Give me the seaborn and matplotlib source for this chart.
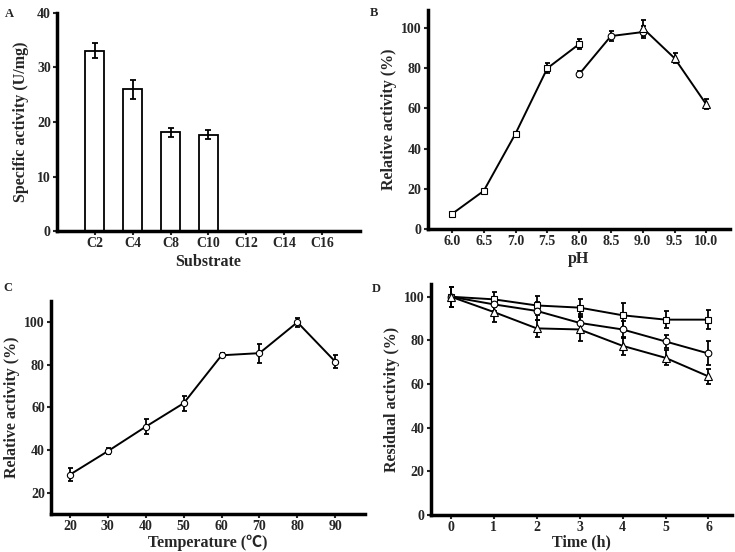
import matplotlib
matplotlib.use("Agg")
import matplotlib.pyplot as plt
import seaborn as sns
import pandas as pd

sns.set_style("white")
plt.rcParams['font.family'] = ['Liberation Serif', 'Noto Sans CJK SC']
plt.rcParams['font.weight'] = 'bold'

# A: substrate specificity
substrates = ['C2', 'C4', 'C8', 'C10', 'C12', 'C14', 'C16']
spec_act = [33.1, 26.0, 18.1, 17.7, 0, 0, 0]
spec_err = [1.3, 1.7, 0.8, 0.9, 0, 0, 0]

# B: pH profile (three buffers)
ph_sq = [6.0, 6.5, 7.0, 7.5, 8.0]
act_sq = [7.5, 19, 47.5, 80, 92]
err_sq = [1, 1, 1, 2.5, 2.5]
ph_ci = [8.0, 8.5, 9.0]
act_ci = [77, 96, 98]
err_ci = [1.5, 2.5, 3]
ph_tr = [9.0, 9.5, 10.0]
act_tr = [100, 85, 62]
err_tr = [4, 2.5, 2.5]

# C: temperature profile
temps = [20, 30, 40, 50, 60, 70, 80, 90]
act_temp = [28.5, 39.5, 51, 62, 84.5, 85.5, 100, 81.5]
err_temp = [3, 1.5, 3.5, 3.5, 1, 4.5, 2, 3]

# D: stability over time
hours = [0, 1, 2, 3, 4, 5, 6]
res_sq = [100, 98.8, 96, 95, 91.5, 89.5, 89.5]
rerr_sq = [4.5, 3.5, 4.5, 4, 5.5, 4, 4.5]
res_ci = [100, 96.5, 93.5, 88, 85, 79.5, 74]
rerr_ci = [4.5, 3, 4, 4, 4, 3, 5.5]
res_tr = [100, 93, 85.5, 85, 77.5, 72, 63.5]
rerr_tr = [4.5, 4.5, 4, 5.5, 4, 3.5, 3.5]

fig = plt.figure(figsize=(7.35, 5.52), dpi=100)
axA = fig.add_axes([0.0776, 0.5815, 0.412, 0.395])
axB = fig.add_axes([0.582, 0.585, 0.411, 0.397])
axC = fig.add_axes([0.0694, 0.0688, 0.427, 0.386])
axD = fig.add_axes([0.586, 0.067, 0.41, 0.418])

LABEL = 11.5


def style(ax):
    sns.despine(ax=ax)
    for s in ['left', 'bottom']:
        ax.spines[s].set_linewidth(2.5)
        ax.spines[s].set_color('black')
    ax.tick_params(direction='out', length=3, width=1.5, labelsize=10,
                   left=True, bottom=True, pad=1.5)
    for lab in ax.get_xticklabels() + ax.get_yticklabels():
        lab.set_fontweight('bold')


def series(ax, x, y, e, marker, ms=4.5):
    ax.errorbar(x, y, yerr=e, fmt='none', ecolor='black', elinewidth=1.3,
                capsize=1.8, capthick=1.3, zorder=2)
    sns.lineplot(x=x, y=y, ax=ax, color='black', linewidth=1.4, marker=marker,
                 markersize=ms, markerfacecolor='white', markeredgecolor='black',
                 markeredgewidth=0.8, zorder=3)


# Panel A
dfA = pd.DataFrame({'sub': substrates, 'val': spec_act})
sns.barplot(data=dfA, x='sub', y='val', order=substrates, ax=axA, width=0.5,
            color='white', edgecolor='black', linewidth=1.3, errorbar=None)
axA.errorbar(range(4), spec_act[:4], yerr=spec_err[:4], fmt='none', ecolor='black',
             elinewidth=1.3, capsize=2, capthick=1.3)
axA.set_xlim(-1, 7)
axA.set_ylim(0, 40)
axA.set_yticks([0, 10, 20, 30, 40])
axA.set_xlabel('Substrate', fontsize=LABEL, fontweight='bold', labelpad=3)
axA.set_ylabel('Specific activity (U/mg)', fontsize=LABEL, fontweight='bold', labelpad=6)
style(axA)

# Panel B
series(axB, ph_sq, act_sq, err_sq, 's', 4)
series(axB, ph_ci, act_ci, err_ci, 'o', 4.8)
series(axB, ph_tr, act_tr, err_tr, '^', 5.2)
axB.set_xlim(5.62, 10.37)
axB.set_ylim(0, 109)
axB.set_xticks([6.0, 6.5, 7.0, 7.5, 8.0, 8.5, 9.0, 9.5, 10.0])
axB.set_xticklabels(['6.0', '6.5', '7.0', '7.5', '8.0', '8.5', '9.0', '9.5', '10.0'])
axB.set_yticks([0, 20, 40, 60, 80, 100])
axB.set_xlabel('pH', fontsize=LABEL, fontweight='bold', labelpad=2)
axB.set_ylabel('Relative activity (%)', fontsize=LABEL, fontweight='bold', labelpad=3)
style(axB)

# Panel C
series(axC, temps, act_temp, err_temp, 'o', 4.5)
axC.set_xlim(15, 97.8)
axC.set_ylim(10, 110)
axC.set_xticks(temps)
axC.set_yticks([20, 40, 60, 80, 100])
axC.set_xlabel('Temperature (℃)', fontsize=LABEL, fontweight='bold', labelpad=1)
axC.set_ylabel('Relative activity (%)', fontsize=LABEL, fontweight='bold', labelpad=3)
style(axC)

# Panel D
series(axD, hours, res_sq, rerr_sq, 's', 4)
series(axD, hours, res_ci, rerr_ci, 'o', 4.8)
series(axD, hours, res_tr, rerr_tr, '^', 5.2)
axD.set_xlim(-0.47, 6.55)
axD.set_ylim(0, 105.7)
axD.set_xticks(hours)
axD.set_yticks([0, 20, 40, 60, 80, 100])
axD.set_xlabel('Time (h)', fontsize=LABEL, fontweight='bold', labelpad=0)
axD.set_ylabel('Residual activity (%)', fontsize=LABEL, fontweight='bold', labelpad=3)
style(axD)

for lbl, x, y in [('A', 0.006, 0.985), ('B', 0.503, 0.988), ('C', 0.004, 0.49), ('D', 0.506, 0.488)]:
    fig.text(x, y, lbl, fontsize=9, fontweight='bold', va='top', ha='left')

fig.savefig('out.png', dpi=100)
